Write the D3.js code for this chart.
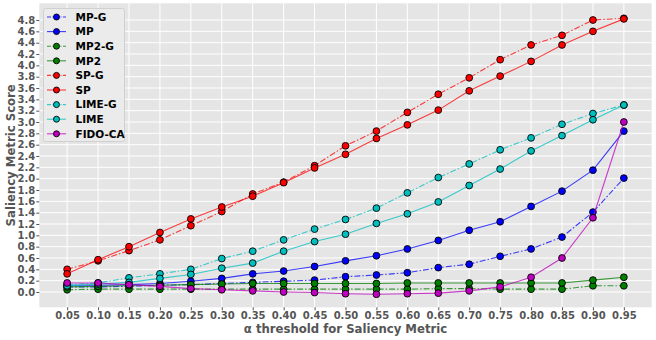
<!DOCTYPE html>
<html>
<head>
<meta charset="utf-8">
<script src="https://cdn.jsdelivr.net/npm/d3@7"></script>
<style>
  body { margin: 0; background: #fff; }
  svg text { font-family: "DejaVu Sans", sans-serif; font-weight: bold; }
</style>
</head>
<body>
<div id="chart"></div>
<script>
const alphas = [0.05, 0.10, 0.15, 0.20, 0.25, 0.30, 0.35, 0.40, 0.45, 0.50,
                0.55, 0.60, 0.65, 0.70, 0.75, 0.80, 0.85, 0.90, 0.95];
const yTicks = [0.0, 0.2, 0.4, 0.6, 0.8, 1.0, 1.2, 1.4, 1.6, 1.8, 2.0, 2.2, 2.4,
                2.6, 2.8, 3.0, 3.2, 3.4, 3.6, 3.8, 4.0, 4.2, 4.4, 4.6, 4.8];

const mpG    = [0.09, 0.09, 0.10, 0.12, 0.13, 0.15, 0.17, 0.19, 0.21, 0.27, 0.30, 0.34, 0.43, 0.49, 0.63, 0.76, 0.97, 1.41, 2.01];
const mp     = [0.12, 0.12, 0.13, 0.15, 0.19, 0.24, 0.32, 0.37, 0.45, 0.55, 0.64, 0.76, 0.91, 1.09, 1.24, 1.51, 1.78, 2.15, 2.84];
const mp2G   = [0.04, 0.05, 0.05, 0.05, 0.05, 0.05, 0.05, 0.05, 0.05, 0.05, 0.05, 0.05, 0.06, 0.06, 0.05, 0.05, 0.05, 0.11, 0.11];
const mp2    = [0.09, 0.10, 0.11, 0.12, 0.13, 0.14, 0.15, 0.15, 0.15, 0.15, 0.15, 0.16, 0.16, 0.16, 0.16, 0.16, 0.16, 0.21, 0.26];
const spG    = [0.40, 0.55, 0.73, 0.92, 1.17, 1.42, 1.73, 1.94, 2.23, 2.58, 2.84, 3.17, 3.49, 3.78, 4.10, 4.36, 4.53, 4.80, 4.83];
const sp     = [0.32, 0.57, 0.80, 1.05, 1.29, 1.50, 1.69, 1.93, 2.19, 2.43, 2.71, 2.95, 3.21, 3.55, 3.81, 4.07, 4.36, 4.60, 4.82];
const limeG  = [0.13, 0.16, 0.25, 0.32, 0.40, 0.59, 0.72, 0.92, 1.11, 1.28, 1.48, 1.75, 2.02, 2.26, 2.51, 2.72, 2.96, 3.15, 3.30];
const lime   = [0.11, 0.14, 0.17, 0.24, 0.31, 0.42, 0.51, 0.72, 0.89, 1.02, 1.21, 1.38, 1.59, 1.88, 2.17, 2.49, 2.76, 3.04, 3.30];
const fidoCA = [0.16, 0.16, 0.13, 0.10, 0.06, 0.04, 0.02, 0.00, -0.01, -0.03, -0.04, -0.03, -0.02, 0.02, 0.09, 0.26, 0.60, 1.31, 3.00];

const seriesNames = ["MP-G", "MP", "MP2-G", "MP2", "SP-G", "SP", "LIME-G", "LIME", "FIDO-CA"];
const seriesValues = [mpG, mp, mp2G, mp2, spG, sp, limeG, lime, fidoCA];
const seriesColors = ["#0000ff", "#0000ff", "#008000", "#008000", "#ff0000", "#ff0000", "#00bfbf", "#00bfbf", "#bf00bf"];
const seriesDashed = [true, false, true, false, true, false, true, false, false];

const width = 656, height = 340;
const margin = {top: 3.3, right: 4.3, bottom: 32.7, left: 39.3};
const dashArray = "6,2,1.5,2";

const svg = d3.select("#chart").append("svg")
    .attr("width", width)
    .attr("height", height);

const x = d3.scaleLinear().domain([0.005, 0.995]).range([margin.left, width - margin.right]);
const y = d3.scaleLinear().domain([-0.27, 5.095]).range([height - margin.bottom, margin.top]);

// plot background
svg.append("rect")
    .attr("x", margin.left)
    .attr("y", margin.top)
    .attr("width", width - margin.left - margin.right)
    .attr("height", height - margin.top - margin.bottom)
    .attr("fill", "#e5e5e5");

// grid
svg.append("g")
    .selectAll("line")
    .data(alphas)
    .enter().append("line")
    .attr("x1", d => x(d)).attr("x2", d => x(d))
    .attr("y1", margin.top).attr("y2", height - margin.bottom)
    .attr("stroke", "#fff").attr("stroke-width", 1);

svg.append("g")
    .selectAll("line")
    .data(yTicks)
    .enter().append("line")
    .attr("x1", margin.left).attr("x2", width - margin.right)
    .attr("y1", d => y(d)).attr("y2", d => y(d))
    .attr("stroke", "#fff").attr("stroke-width", 1);

// axes
const xAxis = svg.append("g")
    .attr("transform", `translate(0,${height - margin.bottom})`)
    .call(d3.axisBottom(x).tickValues(alphas).tickFormat(d3.format(".2f")).tickSize(3).tickPadding(2));

const yAxis = svg.append("g")
    .attr("transform", `translate(${margin.left},0)`)
    .call(d3.axisLeft(y).tickValues(yTicks).tickFormat(d3.format(".1f")).tickSize(3).tickPadding(1));

[xAxis, yAxis].forEach(ax => {
    ax.select(".domain").remove();
    ax.selectAll(".tick line").attr("stroke", "#555");
    ax.selectAll(".tick text")
        .attr("fill", "#555")
        .attr("font-size", 10)
        .attr("font-family", "DejaVu Sans")
        .attr("font-weight", "bold");
});

// axis labels
svg.append("text")
    .attr("x", (margin.left + width - margin.right) / 2)
    .attr("y", 333)
    .attr("text-anchor", "middle")
    .attr("font-size", 11.7)
    .attr("fill", "#555")
    .text("α threshold for Saliency Metric");

svg.append("text")
    .attr("transform", `translate(14.5,${(margin.top + height - margin.bottom) / 2})rotate(-90)`)
    .attr("text-anchor", "middle")
    .attr("font-size", 11.7)
    .attr("fill", "#555")
    .text("Saliency Metric Score");

// lines and markers
const line = d3.line()
    .x((d, i) => x(alphas[i]))
    .y(d => y(d));

seriesValues.forEach((vals, k) => {
    const g = svg.append("g");
    g.append("path")
        .datum(vals)
        .attr("d", line)
        .attr("fill", "none")
        .attr("stroke", seriesColors[k])
        .attr("stroke-opacity", 0.75)
        .attr("stroke-width", 1.1)
        .attr("stroke-dasharray", seriesDashed[k] ? dashArray : null);
    g.selectAll("circle")
        .data(vals)
        .enter().append("circle")
        .attr("cx", (d, i) => x(alphas[i]))
        .attr("cy", d => y(d))
        .attr("r", 3.4)
        .attr("fill", seriesColors[k])
        .attr("stroke", "#000")
        .attr("stroke-width", 0.9);
});

// legend
const legend = svg.append("g");
legend.append("rect")
    .attr("x", 43.5).attr("y", 8.5)
    .attr("width", 81).attr("height", 133)
    .attr("rx", 2)
    .attr("fill", "#ebebeb")
    .attr("stroke", "#d0d0d0")
    .attr("stroke-width", 1);

const item = legend.selectAll("g.item")
    .data(seriesNames)
    .enter().append("g")
    .attr("class", "item")
    .attr("transform", (d, i) => `translate(0,${17 + i * 14.6})`);

item.append("line")
    .attr("x1", 47).attr("x2", 66)
    .attr("stroke", (d, i) => seriesColors[i])
    .attr("stroke-opacity", 0.75)
    .attr("stroke-width", 1.1)
    .attr("stroke-dasharray", (d, i) => seriesDashed[i] ? "4,1.5,1,1.5" : null);

item.append("circle")
    .attr("cx", 56.5)
    .attr("r", 3)
    .attr("fill", (d, i) => seriesColors[i])
    .attr("stroke", "#000")
    .attr("stroke-width", 0.9);

item.append("text")
    .attr("x", 75.5)
    .attr("dy", "0.36em")
    .attr("font-size", 10.5)
    .attr("fill", "#000")
    .text(d => d);
</script>
</body>
</html>
